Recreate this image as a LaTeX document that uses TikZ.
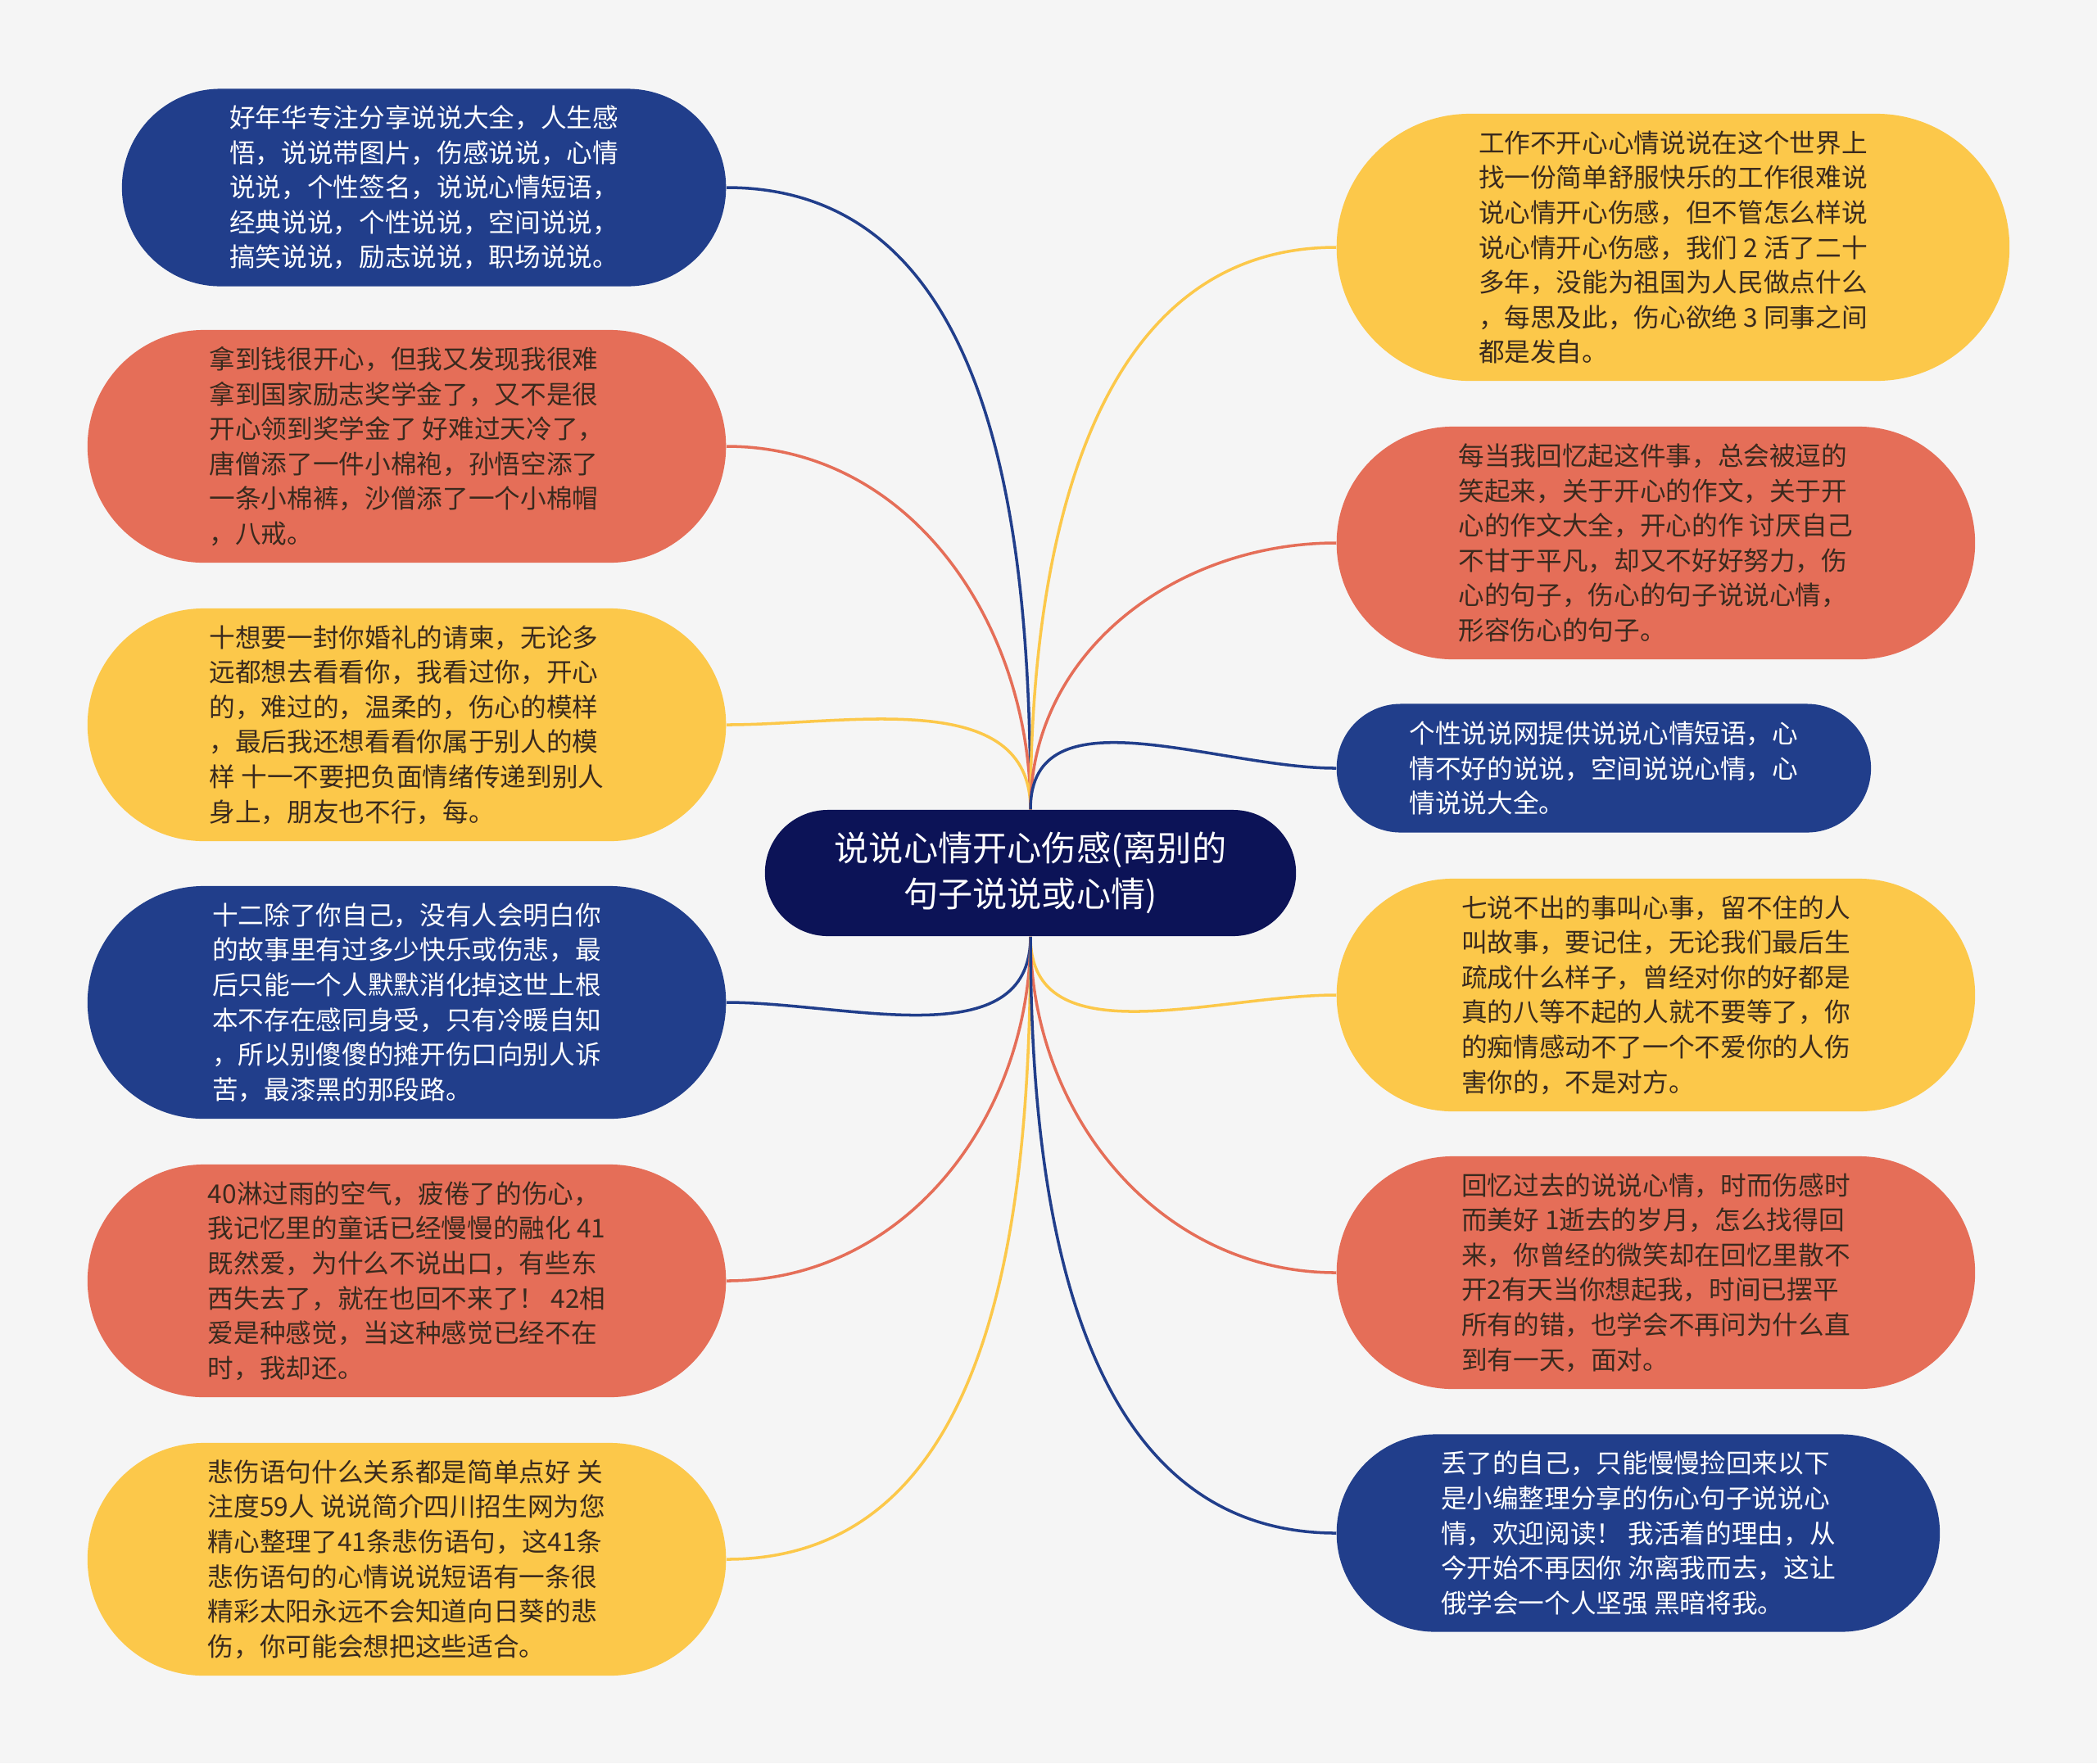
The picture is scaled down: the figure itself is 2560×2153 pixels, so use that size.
\documentclass[tikz,border=0pt]{standalone}
\usepackage{fontspec}
\newfontfamily\cjk{Noto Sans CJK SC}
\definecolor{bgc}{HTML}{F5F5F5}
\definecolor{navy}{HTML}{213E8B}
\definecolor{coral}{HTML}{E56E58}
\definecolor{amber}{HTML}{FCC84A}
\definecolor{deep}{HTML}{0C1357}
\definecolor{ink}{HTML}{3A2A1E}

\begin{document}
\begin{tikzpicture}[x=0.01cm, y=0.01cm,
    leaf/.style 2 args={rectangle, minimum width=#1, minimum height=#2, rounded corners=#2*0.499, inner sep=0pt, align=left, font=\cjk\fontsize{9}{12.1}\selectfont},
    blueleaf/.style 2 args={leaf={#1}{#2}, fill=navy, text=white},
    redleaf/.style 2 args={leaf={#1}{#2}, fill=coral, text=ink},
    yellowleaf/.style 2 args={leaf={#1}{#2}, fill=amber, text=ink},
    link/.style={line width=1pt}]

    \fill[bgc] (0,0) rectangle (2560,-2153);
    \useasboundingbox (0,0) rectangle (2560,-2153);

    \node[rectangle, minimum width=6.48cm, minimum height=1.54cm, rounded corners=0.769cm, fill=deep, text=white, align=center,
        font=\cjk\fontsize{12}{15.8}\selectfont] (root) at (1258,-1066) {说说心情开心伤感(离别的\\句子说说或心情)};

    \node[blueleaf={7.37cm}{2.41cm}, anchor=east] (l1) at (887,-229) {好年华专注分享说说大全，人生感\\悟，说说带图片，伤感说说，心情\\说说，个性签名，说说心情短语，\\经典说说，个性说说，空间说说，\\搞笑说说，励志说说，职场说说。};
    \node[redleaf={7.79cm}{2.84cm}, anchor=east] (l2) at (887,-545) {拿到钱很开心，但我又发现我很难\\拿到国家励志奖学金了，又不是很\\开心领到奖学金了 好难过天冷了，\\唐僧添了一件小棉袍，孙悟空添了\\一条小棉裤，沙僧添了一个小棉帽\\，八戒。};
    \node[yellowleaf={7.79cm}{2.84cm}, anchor=east] (l3) at (887,-885) {十想要一封你婚礼的请柬，无论多\\远都想去看看你，我看过你，开心\\的，难过的，温柔的，伤心的模样\\，最后我还想看看你属于别人的模\\样 十一不要把负面情绪传递到别人\\身上，朋友也不行，每。};
    \node[blueleaf={7.79cm}{2.84cm}, anchor=east] (l4) at (887,-1224) {十二除了你自己，没有人会明白你\\的故事里有过多少快乐或伤悲，最\\后只能一个人默默消化掉这世上根\\本不存在感同身受，只有冷暖自知\\，所以别傻傻的摊开伤口向别人诉\\苦，最漆黑的那段路。};
    \node[redleaf={7.79cm}{2.84cm}, anchor=east] (l5) at (887,-1564) {40淋过雨的空气，疲倦了的伤心，\\我记忆里的童话已经慢慢的融化 41\\既然爱，为什么不说出口，有些东\\西失去了，就在也回不来了！ 42相\\爱是种感觉，当这种感觉已经不在\\时，我却还。};
    \node[yellowleaf={7.79cm}{2.84cm}, anchor=east] (l6) at (887,-1904) {悲伤语句什么关系都是简单点好 关\\注度59人 说说简介四川招生网为您\\精心整理了41条悲伤语句，这41条\\悲伤语句的心情说说短语有一条很\\精彩太阳永远不会知道向日葵的悲\\伤，你可能会想把这些适合。};

    \node[yellowleaf={8.21cm}{3.26cm}, anchor=west] (r1) at (1631,-302) {工作不开心心情说说在这个世界上\\找一份简单舒服快乐的工作很难说\\说心情开心伤感，但不管怎么样说\\说心情开心伤感，我们 2 活了二十\\多年，没能为祖国为人民做点什么\\，每思及此，伤心欲绝 3 同事之间\\都是发自。};
    \node[redleaf={7.79cm}{2.84cm}, anchor=west] (r2) at (1631,-663) {每当我回忆起这件事，总会被逗的\\笑起来，关于开心的作文，关于开\\心的作文大全，开心的作 讨厌自己\\不甘于平凡，却又不好好努力，伤\\心的句子，伤心的句子说说心情，\\形容伤心的句子。};
    \node[blueleaf={6.52cm}{1.57cm}, anchor=west] (r3) at (1631,-938) {个性说说网提供说说心情短语，心\\情不好的说说，空间说说心情，心\\情说说大全。};
    \node[yellowleaf={7.79cm}{2.84cm}, anchor=west] (r4) at (1631,-1215) {七说不出的事叫心事，留不住的人\\叫故事，要记住，无论我们最后生\\疏成什么样子，曾经对你的好都是\\真的八等不起的人就不要等了，你\\的痴情感动不了一个不爱你的人伤\\害你的，不是对方。};
    \node[redleaf={7.79cm}{2.84cm}, anchor=west] (r5) at (1631,-1554) {回忆过去的说说心情，时而伤感时\\而美好 1逝去的岁月，怎么找得回\\来，你曾经的微笑却在回忆里散不\\开2有天当你想起我，时间已摆平\\所有的错，也学会不再问为什么直\\到有一天，面对。};
    \node[blueleaf={7.36cm}{2.41cm}, anchor=west] (r6) at (1631,-1872) {丢了的自己，只能慢慢捡回来以下\\是小编整理分享的伤心句子说说心\\情，欢迎阅读！ 我活着的理由，从\\今开始不再因你 沵离我而去，这让\\俄学会一个人坚强 黑暗将我。};

    \draw[link, navy] (root.north) to[out=90, in=0] (l1.east);
    \draw[link, coral] (root.north) to[out=90, in=0] (l2.east);
    \draw[link, amber] (root.north) to[out=90, in=0] (l3.east);
    \draw[link, navy] (root.south) to[out=-90, in=0] (l4.east);
    \draw[link, coral] (root.south) to[out=-90, in=0] (l5.east);
    \draw[link, amber] (root.south) to[out=-90, in=0] (l6.east);
    \draw[link, amber] (root.north) to[out=90, in=180] (r1.west);
    \draw[link, coral] (root.north) to[out=90, in=180] (r2.west);
    \draw[link, navy] (root.north) to[out=90, in=180] (r3.west);
    \draw[link, amber] (root.south) to[out=-90, in=180] (r4.west);
    \draw[link, coral] (root.south) to[out=-90, in=180] (r5.west);
    \draw[link, navy] (root.south) to[out=-90, in=180] (r6.west);
\end{tikzpicture}
\end{document}
